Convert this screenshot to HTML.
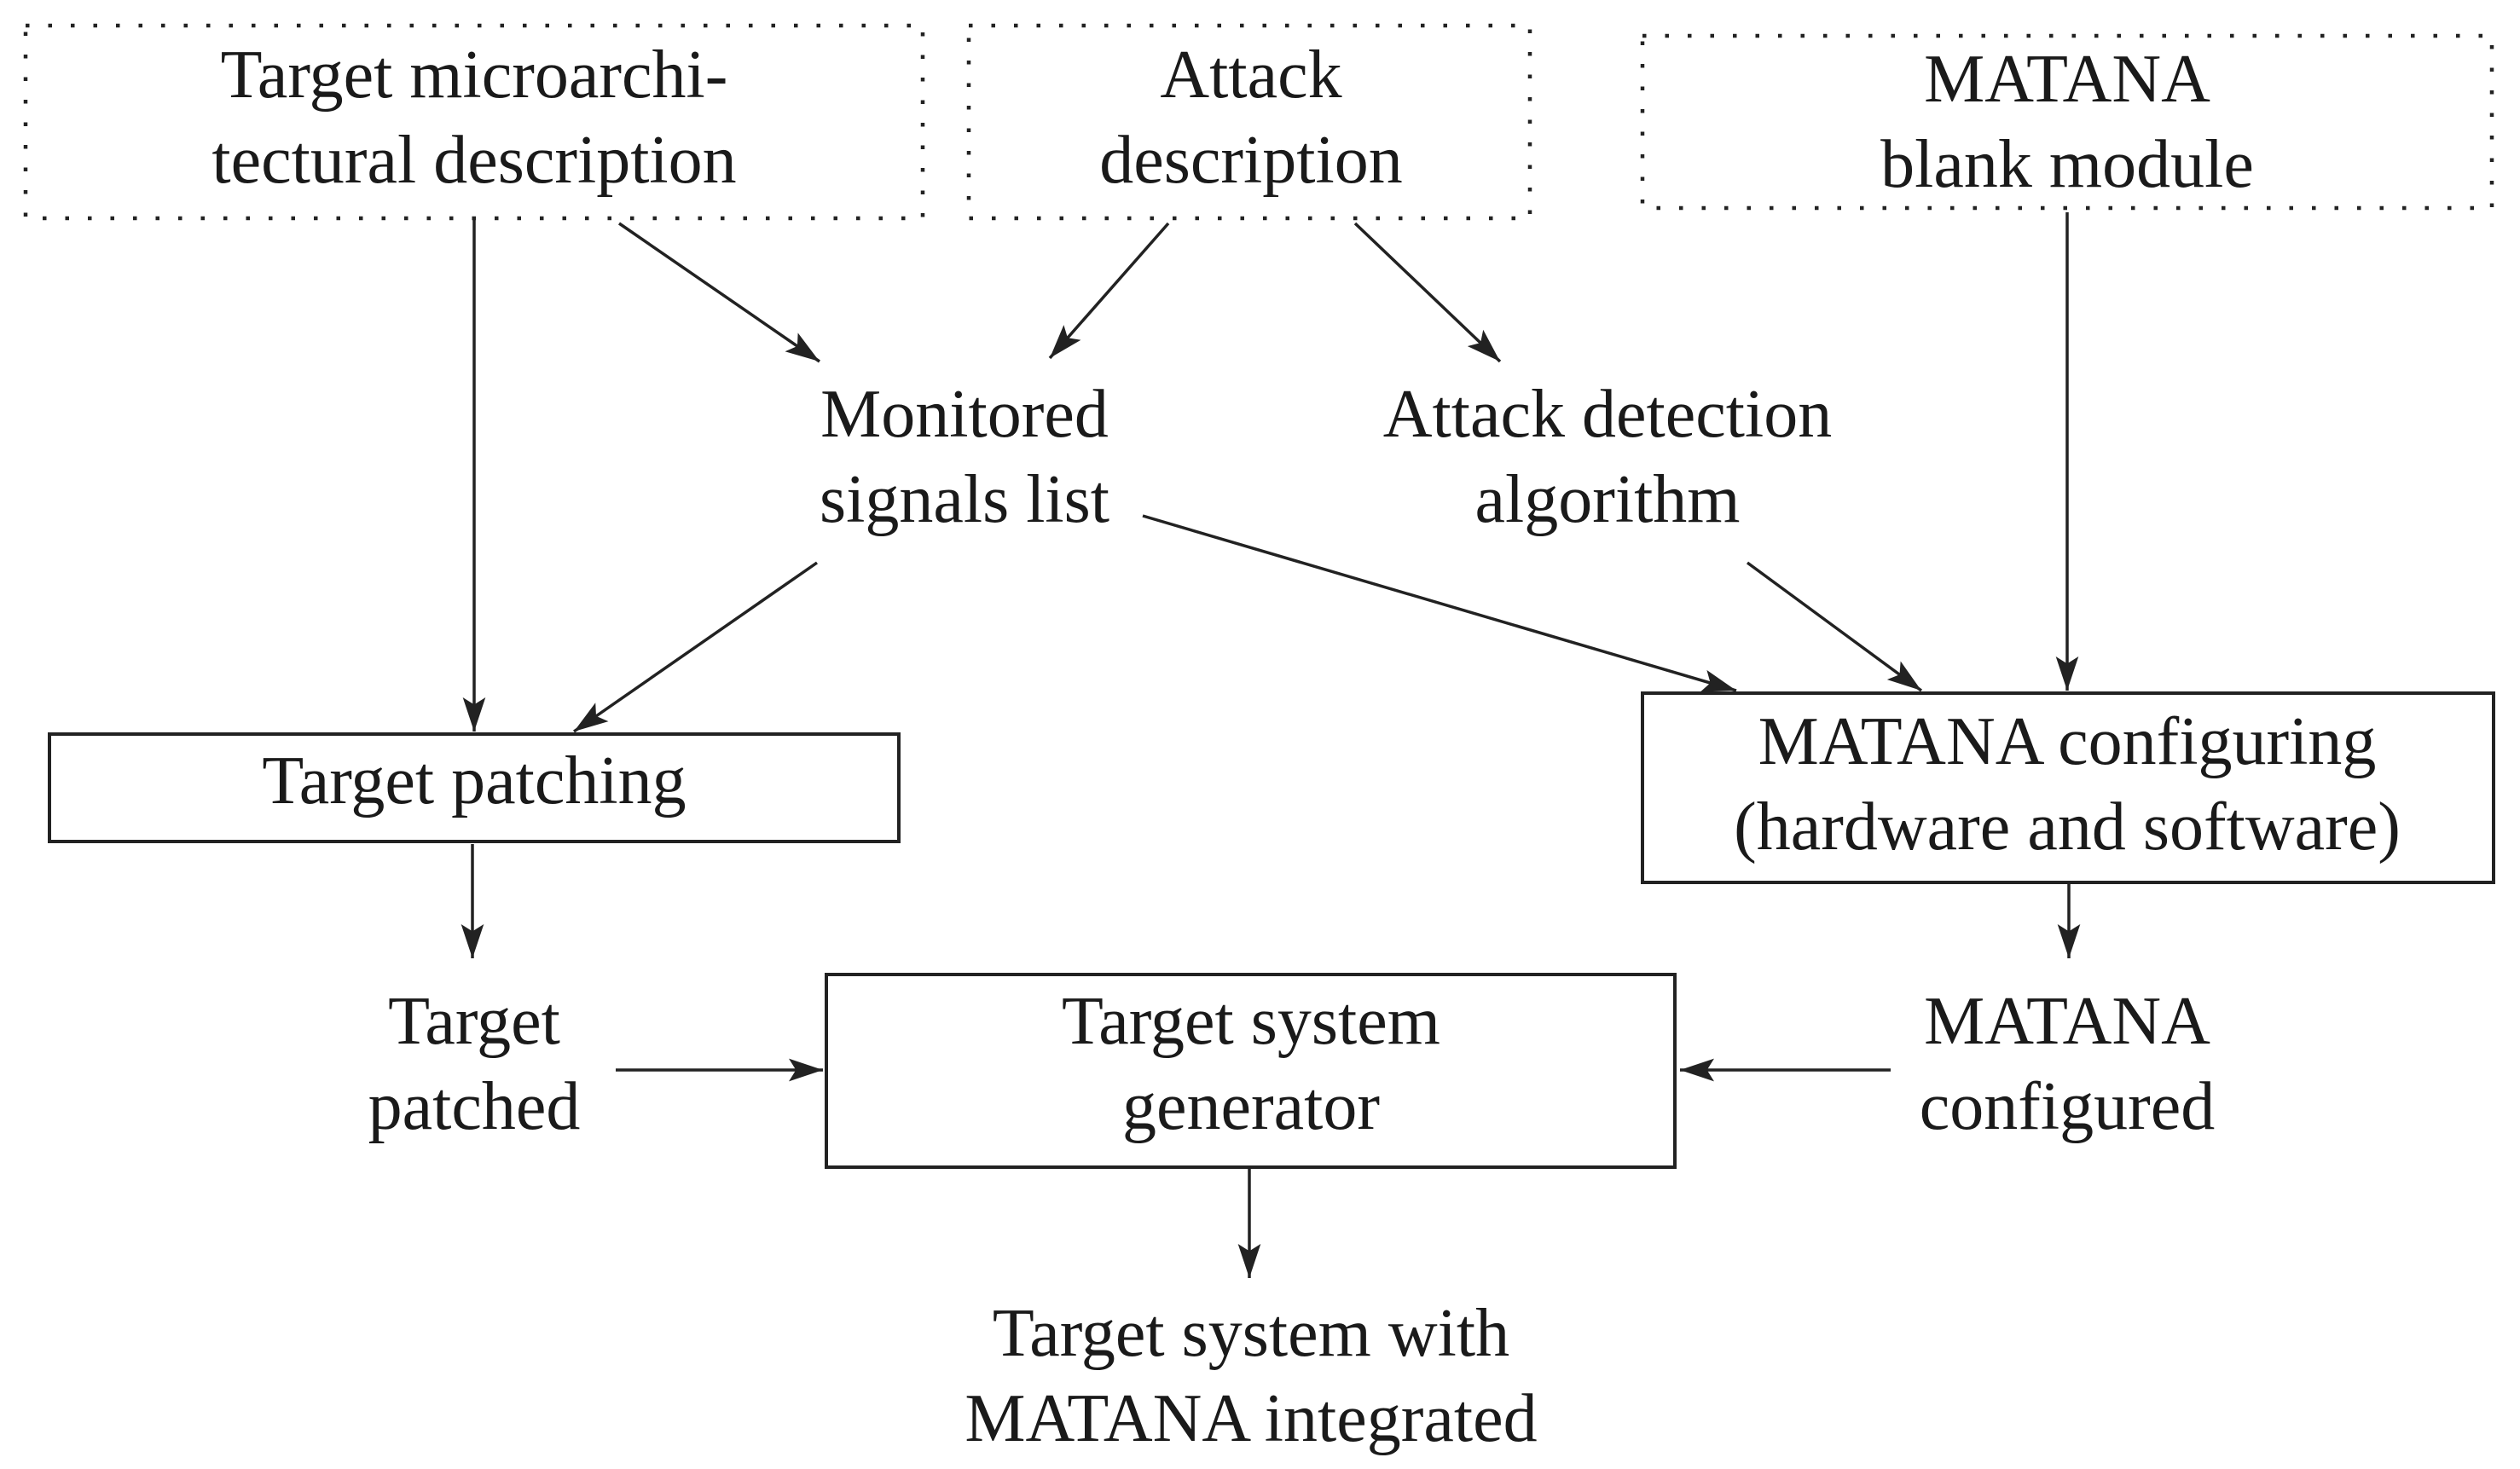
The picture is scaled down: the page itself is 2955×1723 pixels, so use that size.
<!DOCTYPE html>
<html><head><meta charset="utf-8"><style>html,body{margin:0;padding:0;background:#fff}svg{display:block}</style></head>
<body>
<svg width="2955" height="1723" viewBox="0 0 2955 1723" xmlns="http://www.w3.org/2000/svg">
<defs>
<marker id="h" viewBox="0 0 12 8" refX="12" refY="4" markerWidth="40" markerHeight="27" markerUnits="userSpaceOnUse" orient="auto"><path d="M0,0 L12,4 L0,8 L2.5,4 Z" fill="#222"/></marker>
</defs>
<g fill="none" stroke="#222" stroke-width="4.5" stroke-dasharray="4.5 22">
<rect x="30" y="30" width="1052" height="226"/>
<rect x="1136" y="30" width="658" height="226"/>
<rect x="1926" y="42" width="996" height="202"/>
</g>
<g fill="none" stroke="#222" stroke-width="4">
<rect x="58" y="861" width="996" height="126"/>
<rect x="1926" y="813" width="998" height="222"/>
<rect x="969" y="1143" width="995" height="226"/>
</g>
<g stroke="#222" stroke-width="3.5" marker-end="url(#h)">
<line x1="556" y1="258" x2="556" y2="858"/>
<line x1="726" y1="262" x2="961" y2="424"/>
<line x1="1370" y1="262" x2="1231" y2="420"/>
<line x1="1589" y1="262" x2="1759" y2="424"/>
<line x1="2424" y1="249" x2="2424" y2="810"/>
<line x1="958" y1="660" x2="673" y2="858"/>
<line x1="1340" y1="605" x2="2036" y2="810"/>
<line x1="2049" y1="660" x2="2253" y2="810"/>
<line x1="554" y1="990" x2="554" y2="1124"/>
<line x1="2426" y1="1037" x2="2426" y2="1124"/>
<line x1="722" y1="1255" x2="965" y2="1255"/>
<line x1="2217" y1="1255" x2="1970" y2="1255"/>
<line x1="1465" y1="1371" x2="1465" y2="1499"/>
</g>
<g font-family="'Liberation Serif', serif" font-size="80" fill="#1a1a1a" text-anchor="middle">
<text x="556" y="114">Target microarchi-</text>
<text x="556" y="214">tectural description</text>
<text x="1467" y="114">Attack</text>
<text x="1467" y="214">description</text>
<text x="2424" y="119">MATANA</text>
<text x="2424" y="219">blank module</text>
<text x="1131" y="512">Monitored</text>
<text x="1131" y="612">signals list</text>
<text x="1885" y="512">Attack detection</text>
<text x="1885" y="612">algorithm</text>
<text x="556" y="942">Target patching</text>
<text x="2424" y="896">MATANA configuring</text>
<text x="2424" y="996">(hardware and software)</text>
<text x="556" y="1224">Target</text>
<text x="556" y="1324">patched</text>
<text x="1467" y="1224">Target system</text>
<text x="1467" y="1324">generator</text>
<text x="2424" y="1224">MATANA</text>
<text x="2424" y="1324">configured</text>
<text x="1467" y="1590">Target system with</text>
<text x="1467" y="1690">MATANA integrated</text>
</g>
</svg>
</body></html>
